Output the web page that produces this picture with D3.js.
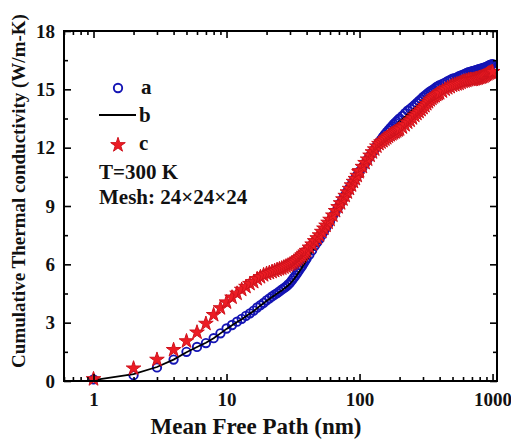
<!DOCTYPE html>
<html>
<head>
<meta charset="utf-8">
<script src="https://cdn.jsdelivr.net/npm/d3@7"></script>
<style>
  html, body { margin: 0; padding: 0; background: #fff; }
  svg { display: block; }
  text { font-family: "Liberation Serif", "Times New Roman", serif; font-weight: bold; fill: #111; }
</style>
</head>
<body>
<svg id="chart" width="511" height="441"></svg>
<script>
// Mean free path (nm) sample positions
const mfp = [1,2,3,4,5,6,7,8,9,10, 11,12,13,14,15,16,17,18,19,20,
  21,22,23,24,25,26,27,28,29,30, 31,32,33,34,35,36,37,38,39,40,
  42,44,46,48,50,52,54,56,58,60,
  63,66,69,72,75,78,81,84,87,90,93,96,99,
  100,105,110,115,120,125,130,135,140,145,150,155,160,165,170,175,180,185,190,195,200,
  210,220,230,240,250,260,270,280,290,300,310,320,330,340,350,360,370,380,390,400,
  420,440,460,480,500,520,540,560,580,600,620,640,660,680,700,
  720,740,760,780,800,820,840,860,880,900,920,940,960,980,1000];

// Series a (blue open circles)
const seriesA = [0.08,0.3,0.7,1.1,1.5,1.75,1.95,2.2,2.45,2.7,
  2.88,3.05,3.2,3.35,3.48,3.62,3.78,3.9,4.02,4.15,
  4.25,4.35,4.44,4.52,4.61,4.7,4.78,4.85,4.95,5.05,
  5.17,5.3,5.42,5.55,5.68,5.8,5.92,6.05,6.18,6.3,
  6.5,6.72,6.95,7.13,7.3,7.5,7.7,7.88,8.05,8.22,
  8.48,8.7,8.93,9.15,9.36,9.56,9.75,9.93,10.1,10.27,10.43,10.58,10.73,
  10.78,10.97,11.18,11.4,11.58,11.76,11.93,12.1,12.27,12.41,12.55,12.68,12.8,12.9,13.0,13.1,13.2,13.28,13.35,13.43,13.5,
  13.63,13.77,13.9,14.0,14.1,14.2,14.3,14.4,14.5,14.6,14.68,14.75,14.83,14.9,14.95,15.0,15.06,15.12,15.17,15.22,
  15.28,15.35,15.42,15.48,15.55,15.58,15.62,15.68,15.72,15.75,15.8,15.85,15.88,15.9,15.93,
  15.95,15.98,16.0,16.02,16.05,16.07,16.09,16.11,16.13,16.15,16.19,16.23,16.26,16.28,16.3];

// Series b (black line)
const seriesB = [0.05,0.35,0.72,1.1,1.48,1.75,1.97,2.2,2.45,2.68,
  2.87,3.03,3.18,3.33,3.47,3.6,3.75,3.88,4.0,4.12,
  4.22,4.32,4.41,4.5,4.58,4.66,4.74,4.82,4.91,5.0,
  5.11,5.22,5.35,5.47,5.6,5.72,5.85,5.98,6.1,6.22,
  6.45,6.67,6.9,7.08,7.25,7.45,7.65,7.83,8.0,8.17,
  8.42,8.64,8.87,9.09,9.3,9.5,9.69,9.87,10.04,10.21,10.37,10.52,10.67,
  10.74,10.94,11.15,11.38,11.55,11.73,11.9,12.05,12.2,12.32,12.43,12.55,12.66,12.76,12.86,12.95,13.04,13.12,13.2,13.27,13.35,
  13.47,13.6,13.72,13.83,13.93,14.03,14.13,14.23,14.33,14.42,14.5,14.57,14.64,14.7,14.76,14.82,14.88,14.94,14.99,15.04,
  15.1,15.17,15.24,15.3,15.36,15.4,15.44,15.49,15.53,15.57,15.61,15.65,15.68,15.71,15.74,
  15.77,15.8,15.82,15.84,15.86,15.88,15.9,15.92,15.94,15.96,15.99,16.02,16.05,16.08,16.1];

// Series c (red stars)
const seriesC = [0.1,0.65,1.1,1.6,2.05,2.5,2.95,3.4,3.75,4.05,
  4.3,4.5,4.7,4.85,5.0,5.1,5.25,5.35,5.45,5.52,
  5.57,5.62,5.67,5.72,5.76,5.8,5.85,5.9,5.95,6.0,
  6.05,6.1,6.17,6.25,6.32,6.4,6.47,6.55,6.62,6.7,
  6.87,7.03,7.2,7.35,7.5,7.68,7.85,8.0,8.15,8.3,
  8.52,8.75,8.95,9.15,9.35,9.53,9.71,9.89,10.07,10.25,10.4,10.56,10.75,
  10.8,11.02,11.22,11.4,11.6,11.77,11.92,12.07,12.2,12.28,12.35,12.43,12.5,12.58,12.65,12.7,12.75,12.8,12.85,12.9,12.95,
  13.05,13.17,13.3,13.4,13.52,13.65,13.75,13.85,13.95,14.05,14.15,14.25,14.35,14.45,14.53,14.6,14.66,14.72,14.77,14.81,
  14.9,15.0,15.07,15.13,15.2,15.23,15.27,15.3,15.35,15.4,15.42,15.45,15.48,15.5,15.5,
  15.5,15.53,15.55,15.57,15.6,15.62,15.64,15.67,15.71,15.75,15.79,15.83,15.86,15.88,15.9];

const xMajorTicks = [1, 10, 100, 1000];
const xMinorTicks = [0.6,0.7,0.8,0.9, 2,3,4,5,6,7,8,9, 20,30,40,50,60,70,80,90, 200,300,400,500,600,700,800,900];
const yMajorTicks = [0, 3, 6, 9, 12, 15, 18];
const yMinorTicks = [1.5, 4.5, 7.5, 10.5, 13.5, 16.5];

const legendLabels = ["a", "b", "c"];
const noteLines = ["T=300 K", "Mesh: 24\u00d724\u00d724"];
const xTitle = "Mean Free Path (nm)";
const yTitle = "Cumulative Thermal conductivity (W/m-K)";

const L = 64, R = 497, T = 31, B = 381;
const svg = d3.select("#chart");
svg.append("rect").attr("width", 511).attr("height", 441).attr("fill", "#fff");

const x = d3.scaleLog().domain([0.6, 1080]).range([L, R]);
const y = d3.scaleLinear().domain([0, 18]).range([B, T]);

const blue = "#1414b4", red = "#ec1c24";

const ptsA = mfp.map((m, i) => [m, seriesA[i]]);
const ptsB = mfp.map((m, i) => [m, seriesB[i]]);
const ptsC = mfp.map((m, i) => [m, seriesC[i]]);

const plot = svg.append("g");
plot.selectAll("circle.a").data(ptsA).join("circle")
  .attr("class", "a")
  .attr("cx", d => x(d[0])).attr("cy", d => y(d[1])).attr("r", 4.2)
  .attr("fill", "none").attr("stroke", blue).attr("stroke-width", 1.9);

plot.append("path").datum(ptsB)
  .attr("d", d3.line().x(d => x(d[0])).y(d => y(d[1])))
  .attr("fill", "none").attr("stroke", "#000").attr("stroke-width", 1.8);

const star = d3.symbol().type(d3.symbolStar).size(66);
plot.selectAll("path.c").data(ptsC).join("path")
  .attr("class", "c")
  .attr("transform", d => `translate(${x(d[0])},${y(d[1])})`)
  .attr("d", star)
  .attr("fill", red).attr("stroke", "#d0121c").attr("stroke-width", 1);

function styleAxis(g) {
  g.select(".domain").remove();
  g.selectAll(".tick line").attr("stroke", "#000").attr("stroke-width", 1.6);
  g.selectAll("text").style("font-size", "19px").style("font-family", '"Liberation Serif", "Times New Roman", serif')
    .style("font-weight", "bold").attr("fill", "#111");
}
svg.append("g").attr("transform", `translate(0,${B})`)
  .call(d3.axisBottom(x).tickValues(xMajorTicks).tickSize(-7).tickPadding(12).tickFormat(d3.format("d")))
  .call(styleAxis);
svg.append("g").attr("transform", `translate(0,${B})`)
  .call(d3.axisBottom(x).tickValues(xMinorTicks).tickSize(-4).tickFormat(""))
  .call(styleAxis);
svg.append("g").attr("transform", `translate(0,${T})`)
  .call(d3.axisTop(x).tickValues(xMajorTicks).tickSize(-7).tickFormat(""))
  .call(styleAxis);
svg.append("g").attr("transform", `translate(0,${T})`)
  .call(d3.axisTop(x).tickValues(xMinorTicks).tickSize(-4).tickFormat(""))
  .call(styleAxis);
svg.append("g").attr("transform", `translate(${L},0)`)
  .call(d3.axisLeft(y).tickValues(yMajorTicks).tickSize(-7).tickPadding(9))
  .call(styleAxis);
svg.append("g").attr("transform", `translate(${L},0)`)
  .call(d3.axisLeft(y).tickValues(yMinorTicks).tickSize(-4).tickFormat(""))
  .call(styleAxis);
svg.append("g").attr("transform", `translate(${R},0)`)
  .call(d3.axisRight(y).tickValues(yMajorTicks).tickSize(-7).tickFormat(""))
  .call(styleAxis);
svg.append("g").attr("transform", `translate(${R},0)`)
  .call(d3.axisRight(y).tickValues(yMinorTicks).tickSize(-4).tickFormat(""))
  .call(styleAxis);

svg.append("rect").attr("x", L).attr("y", T).attr("width", R - L).attr("height", B - T)
  .attr("fill", "none").attr("stroke", "#000").attr("stroke-width", 2);

svg.append("text").attr("x", 256).attr("y", 434).attr("text-anchor", "middle")
  .style("font-size", "23px").text(xTitle);
svg.append("text").attr("transform", "translate(25,191) rotate(-90)").attr("text-anchor", "middle")
  .style("font-size", "19px").text(yTitle);

const lg = svg.append("g");
lg.append("circle").attr("cx", 118).attr("cy", 88).attr("r", 4.2)
  .attr("fill", "none").attr("stroke", blue).attr("stroke-width", 1.9);
lg.append("text").attr("x", 141).attr("y", 94).style("font-size", "21px").text(legendLabels[0]);
lg.append("line").attr("x1", 99).attr("x2", 136).attr("y1", 115).attr("y2", 115)
  .attr("stroke", "#000").attr("stroke-width", 2);
lg.append("text").attr("x", 139).attr("y", 122).style("font-size", "21px").text(legendLabels[1]);
lg.append("path").attr("transform", "translate(118,145)").attr("d", star)
  .attr("fill", red).attr("stroke", "#d0121c").attr("stroke-width", 1);
lg.append("text").attr("x", 139).attr("y", 150).style("font-size", "21px").text(legendLabels[2]);
lg.append("text").attr("x", 99).attr("y", 179).style("font-size", "21px").text(noteLines[0]);
lg.append("text").attr("x", 99).attr("y", 204).style("font-size", "21px").text(noteLines[1]);
</script>
</body>
</html>
